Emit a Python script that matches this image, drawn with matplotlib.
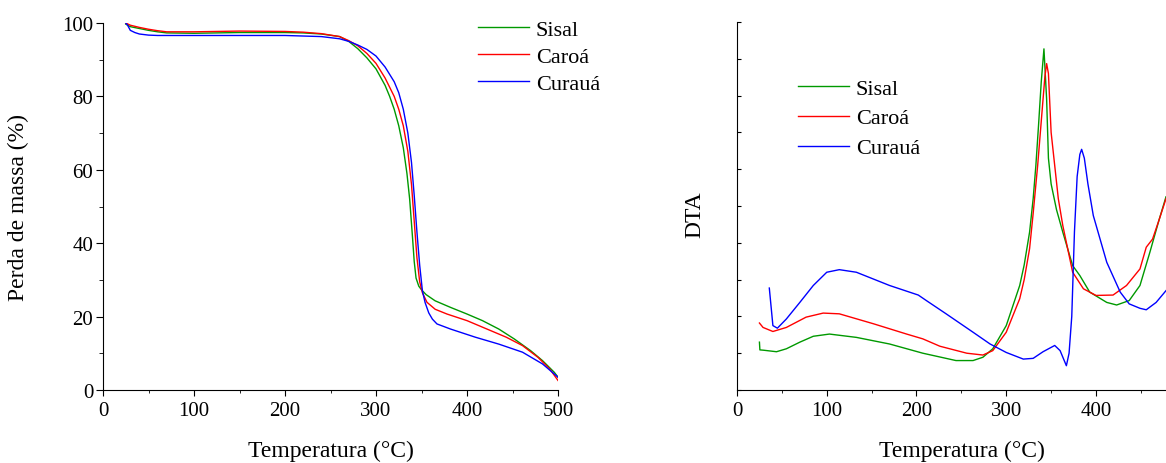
import matplotlib
matplotlib.use("Agg")
import matplotlib.pyplot as plt
from matplotlib.ticker import MultipleLocator, NullFormatter

plt.rcParams['font.family'] = ['Liberation Serif', 'DejaVu Serif']

# TGA (mass loss %)
tga_t_sisal = [25, 30, 40, 50, 60, 70, 100, 150, 200, 220, 240, 260, 270, 280, 290, 300, 310, 315,
               320, 325, 330, 334, 337, 340, 342, 344, 347, 350, 355, 365, 382, 400, 417, 435,
               452, 470, 483, 496, 500]
tga_sisal = [99.7, 99.0, 98.5, 98.0, 97.6, 97.3, 97.2, 97.4, 97.4, 97.3, 97.0, 96.3, 95.0, 93.0,
             90.5, 87.5, 83.0, 80.0, 76.5, 72.0, 66.0, 59.0, 52.0, 42.0, 35.0, 30.5, 28.3, 27.3,
             26.0, 24.3, 22.5, 20.7, 18.9, 16.6, 13.9, 10.7, 8.0, 4.8, 3.5]

tga_t_caroa = [25, 30, 40, 50, 60, 70, 100, 150, 200, 220, 240, 260, 270, 280, 290, 300, 310, 320,
               325, 330, 335, 339, 342, 345, 348, 351, 356, 365, 378, 400, 422, 443, 461, 478,
               491, 500]
tga_caroa = [100.0, 99.4, 98.8, 98.3, 97.9, 97.6, 97.6, 97.8, 97.7, 97.5, 97.1, 96.3, 95.2, 93.8,
             91.7, 89.0, 85.0, 80.0, 76.5, 72.0, 65.0, 56.0, 46.0, 36.0, 29.5, 26.5, 23.9, 22.0,
             20.7, 18.9, 16.6, 14.4, 12.1, 8.9, 5.7, 2.6]

tga_t_curaua = [25, 27, 30, 35, 40, 50, 60, 100, 150, 200, 240, 260, 270, 280, 290, 300, 310, 320,
                325, 330, 335, 339, 342, 345, 348, 351, 354, 358, 362, 367, 382, 409, 435, 461,
                483, 500]
tga_curaua = [100.0, 99.4, 98.0, 97.4, 97.0, 96.7, 96.6, 96.6, 96.6, 96.6, 96.3, 95.7, 95.0, 94.0,
              92.8, 91.0, 88.0, 84.0, 81.0, 76.5, 70.0, 62.0, 53.0, 43.0, 34.0, 27.0, 23.8, 21.0,
              19.3, 18.0, 16.6, 14.4, 12.5, 10.3, 7.1, 3.5]

# DTA (arbitrary units)
dta_t_sisal = [25, 25.5, 30, 44, 55, 70, 85, 103, 133, 170, 207, 244, 263, 274, 285, 300, 315, 320,
               326, 330, 333, 336, 339, 342, 345, 347, 350, 356, 363, 374, 382, 393, 412, 423,
               437, 449, 460, 470, 478]
dta_sisal = [1.30, 1.09, 1.08, 1.04, 1.12, 1.30, 1.46, 1.52, 1.43, 1.25, 1.00, 0.80, 0.80, 0.89,
             1.12, 1.75, 2.84, 3.40, 4.29, 5.20, 6.10, 7.20, 8.37, 9.27, 7.90, 6.30, 5.60, 4.90,
             4.29, 3.38, 3.11, 2.66, 2.38, 2.31, 2.43, 2.84, 3.74, 4.60, 5.25]

dta_t_caroa = [25, 29, 40, 55, 77, 96, 114, 152, 189, 207, 226, 256, 274, 285, 300, 315, 320, 326,
               330, 335, 338, 343, 345, 347, 350, 354, 358, 363, 374, 386, 400, 419, 434, 449,
               456, 463, 470, 478]
dta_caroa = [1.82, 1.70, 1.59, 1.70, 1.98, 2.09, 2.07, 1.80, 1.52, 1.39, 1.19, 1.00, 0.95, 1.07,
             1.57, 2.48, 3.00, 3.84, 4.80, 6.10, 7.00, 8.50, 8.87, 8.60, 7.00, 6.10, 5.20, 4.47,
             3.20, 2.75, 2.57, 2.58, 2.84, 3.29, 3.88, 4.10, 4.60, 5.20]

dta_t_curaua = [36, 40, 45, 55, 70, 85, 100, 114, 133, 170, 202, 211, 233, 263, 282, 300, 319, 330,
                341, 354, 360, 367, 370, 373, 376, 379, 382, 384, 387, 391, 397, 412, 427, 437,
                449, 456, 467, 478]
dta_curaua = [2.77, 1.75, 1.68, 1.93, 2.38, 2.84, 3.20, 3.27, 3.20, 2.84, 2.58, 2.43, 2.07, 1.57,
              1.25, 1.02, 0.84, 0.86, 1.04, 1.21, 1.07, 0.66, 1.00, 2.00, 4.30, 5.80, 6.40, 6.54,
              6.30, 5.60, 4.74, 3.47, 2.66, 2.34, 2.22, 2.18, 2.38, 2.70]

names = ['Sisal', 'Caroá', 'Curauá']
colors = ['#009900', '#ff0000', '#0000ff']

fig = plt.figure(figsize=(11.66, 4.64), dpi=100)
W, H = 1166, 464

# left panel: TGA
ax1 = fig.add_axes([103 / W, (H - 391) / H, (558 - 103) / W, (391 - 24) / H])
ax1.plot(tga_t_sisal, tga_sisal, color=colors[0], lw=1.0, label=names[0])
ax1.plot(tga_t_caroa, tga_caroa, color=colors[1], lw=1.0, label=names[1])
ax1.plot(tga_t_curaua, tga_curaua, color=colors[2], lw=1.0, label=names[2])
ax1.set_xlim(0, 500)
ax1.set_ylim(0, 100)
ax1.xaxis.set_major_locator(MultipleLocator(100))
ax1.xaxis.set_minor_locator(MultipleLocator(50))
ax1.yaxis.set_major_locator(MultipleLocator(20))
ax1.yaxis.set_minor_locator(MultipleLocator(10))
ax1.set_xlabel('Temperatura (°C)', fontsize=17)
ax1.set_ylabel('Perda de massa (%)', fontsize=17)
ax1.xaxis.set_label_coords(0.5, (391 - 441) / 367)
ax1.yaxis.set_label_coords((29 - 103) / 455, 0.5)
ax1.legend(frameon=False, fontsize=16, loc='upper left', bbox_to_anchor=(478 / W, 1 - 20 / H),
           bbox_transform=fig.transFigure, handlelength=2.3, handletextpad=0.3,
           labelspacing=0.3, borderaxespad=0, borderpad=0)

# right panel: DTA
ax2 = fig.add_axes([737 / W, (H - 391) / H, (W - 737) / W, (391 - 23) / H])
ax2.plot(dta_t_sisal, dta_sisal, color=colors[0], lw=1.0, label=names[0])
ax2.plot(dta_t_caroa, dta_caroa, color=colors[1], lw=1.0, label=names[1])
ax2.plot(dta_t_curaua, dta_curaua, color=colors[2], lw=1.0, label=names[2])
ax2.set_xlim(0, 478)
ax2.set_ylim(0, 10)
ax2.xaxis.set_major_locator(MultipleLocator(100))
ax2.xaxis.set_minor_locator(MultipleLocator(50))
ax2.yaxis.set_major_locator(MultipleLocator(1))
ax2.yaxis.set_major_formatter(NullFormatter())
ax2.tick_params(axis='y', which='major', direction='in', length=3)
ax2.set_xlabel('Temperatura (°C)', fontsize=17)
ax2.set_ylabel('DTA', fontsize=17)
ax2.xaxis.set_label_coords(0.524, (391 - 441) / 368)
ax2.yaxis.set_label_coords((705 - 737) / 429, 0.48)
ax2.legend(frameon=False, fontsize=16, loc='upper left', bbox_to_anchor=(798 / W, 1 - 79 / H),
           bbox_transform=fig.transFigure, handlelength=2.3, handletextpad=0.3,
           labelspacing=0.42, borderaxespad=0, borderpad=0)

for ax in (ax1, ax2):
    ax.spines['top'].set_visible(False)
    ax.spines['right'].set_visible(False)
    ax.tick_params(labelsize=15)
    ax.tick_params(axis='x', which='major', length=4.5)
    ax.tick_params(which='minor', length=2.5)
ax1.tick_params(axis='y', which='major', length=5, pad=2)
ax1.tick_params(axis='y', which='minor', length=3)

fig.savefig('out.png', dpi=100)
